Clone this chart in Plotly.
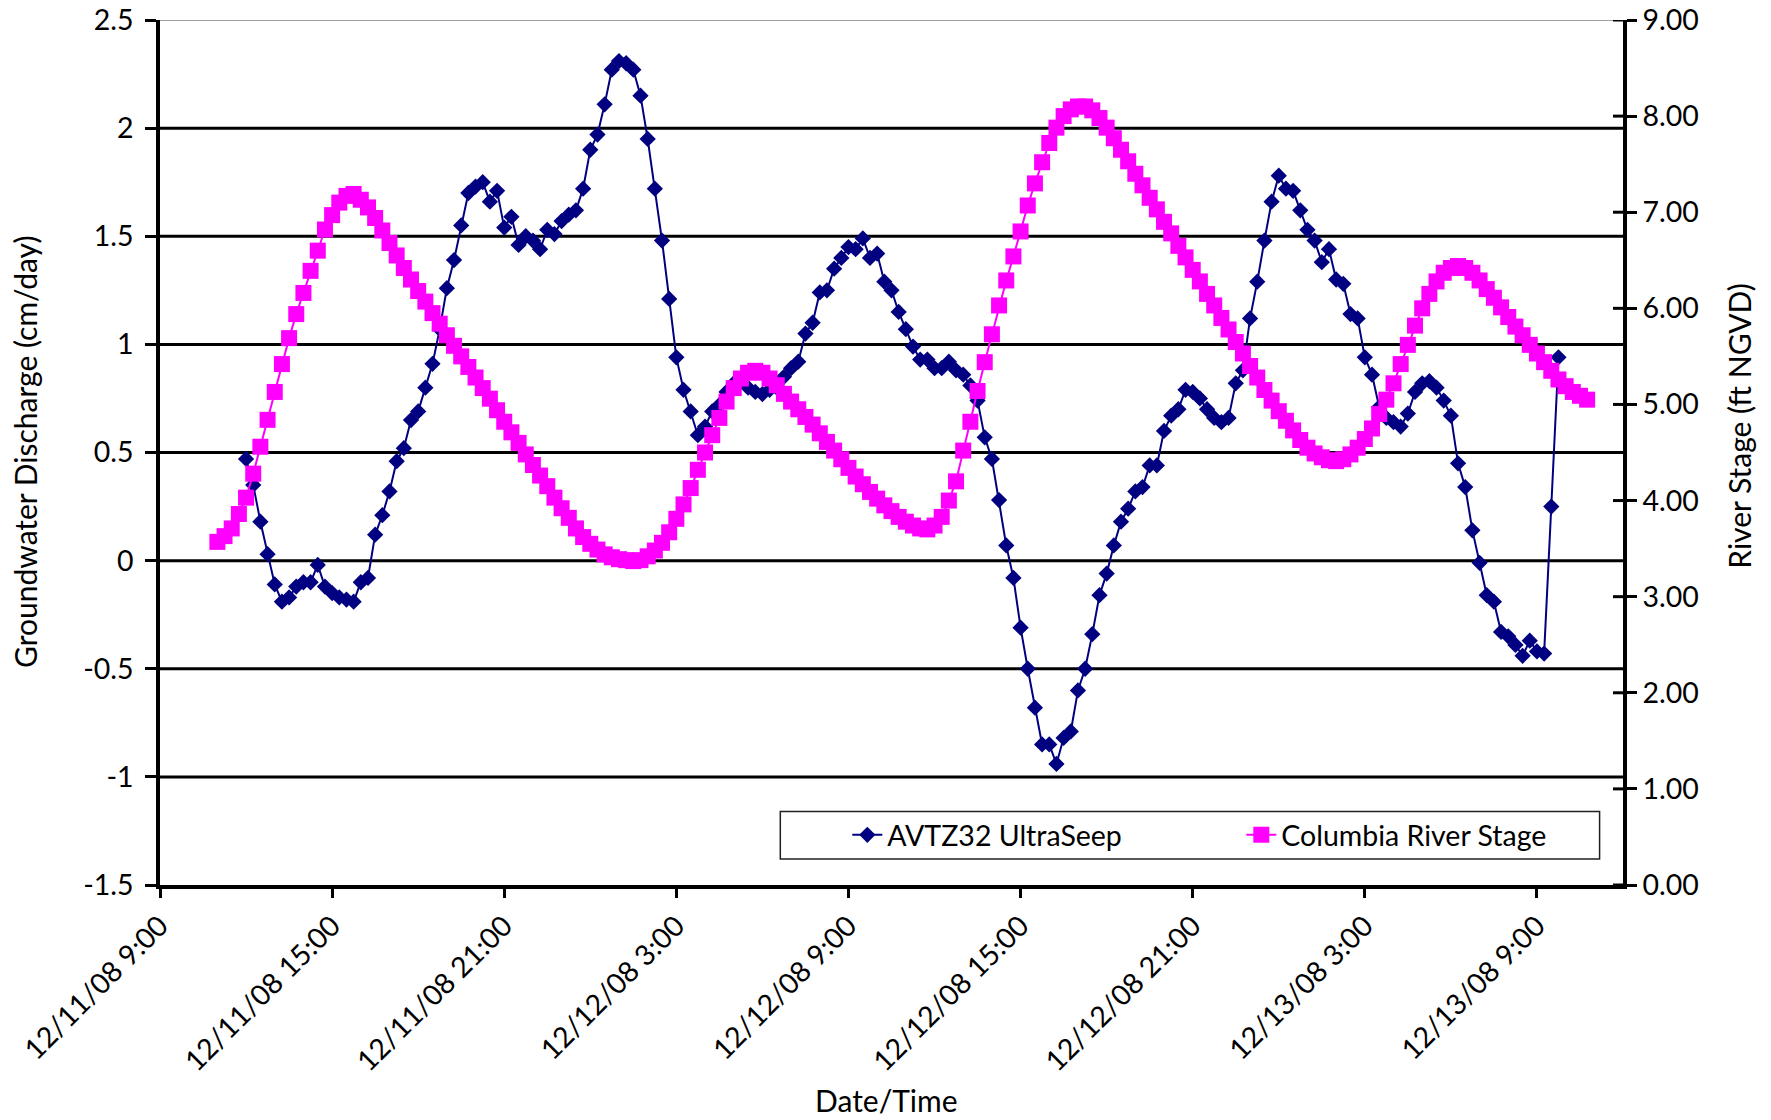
import pandas as pd
import plotly.graph_objects as go

# ---- data -------------------------------------------------------------
# AVTZ32 UltraSeep groundwater discharge (cm/day), 15-minute readings
seep_start = "2008-12-11 12:00"
seep_values = [
    0.47, 0.35, 0.18, 0.03, -0.11, -0.19, -0.17, -0.12, -0.10, -0.10,
    -0.02, -0.12, -0.15, -0.17, -0.18, -0.19, -0.10, -0.08, 0.12, 0.21,
    0.32, 0.46, 0.52, 0.65, 0.69, 0.80, 0.91, 1.07, 1.26, 1.39,
    1.55, 1.70, 1.73, 1.75, 1.66, 1.71, 1.54, 1.59, 1.46, 1.50,
    1.48, 1.44, 1.53, 1.51, 1.57, 1.60, 1.62, 1.72, 1.90, 1.97,
    2.11, 2.27, 2.31, 2.30, 2.27, 2.15, 1.95, 1.72, 1.48, 1.21,
    0.94, 0.79, 0.69, 0.58, 0.62, 0.69, 0.72, 0.78, 0.82, 0.83,
    0.80, 0.78, 0.77, 0.79, 0.80, 0.85, 0.89, 0.92, 1.05, 1.10,
    1.24, 1.25, 1.35, 1.40, 1.45, 1.44, 1.49, 1.40, 1.42, 1.29,
    1.25, 1.15, 1.07, 0.99, 0.93, 0.93, 0.89, 0.89, 0.92, 0.88,
    0.86, 0.81, 0.74, 0.57, 0.47, 0.28, 0.07, -0.08, -0.31, -0.50,
    -0.68, -0.85, -0.85, -0.94, -0.82, -0.79, -0.60, -0.50, -0.34, -0.16,
    -0.06, 0.07, 0.18, 0.24, 0.32, 0.34, 0.44, 0.44, 0.60, 0.67,
    0.70, 0.79, 0.78, 0.75, 0.70, 0.66, 0.64, 0.66, 0.82, 0.88,
    1.12, 1.29, 1.48, 1.66, 1.78, 1.72, 1.71, 1.62, 1.53, 1.48,
    1.38, 1.44, 1.30, 1.28, 1.14, 1.12, 0.94, 0.86, 0.71, 0.66,
    0.64, 0.62, 0.68, 0.78, 0.82, 0.83, 0.80, 0.74, 0.67, 0.45,
    0.34, 0.14, -0.01, -0.16, -0.19, -0.33, -0.35, -0.39, -0.44, -0.37,
    -0.42, -0.43, 0.25, 0.94,
]

# Columbia River stage (ft NGVD), 15-minute readings
stage_start = "2008-12-11 11:00"
stage_values = [
    3.57, 3.63, 3.71, 3.86, 4.03, 4.28, 4.56, 4.84, 5.13, 5.42,
    5.69, 5.94, 6.16, 6.39, 6.60, 6.82, 6.97, 7.10, 7.17, 7.19,
    7.13, 7.05, 6.94, 6.81, 6.68, 6.55, 6.42, 6.30, 6.18, 6.07,
    5.95, 5.84, 5.72, 5.61, 5.50, 5.39, 5.28, 5.17, 5.06, 4.94,
    4.82, 4.71, 4.60, 4.48, 4.37, 4.26, 4.15, 4.03, 3.92, 3.82,
    3.71, 3.62, 3.55, 3.49, 3.44, 3.41, 3.39, 3.38, 3.37, 3.38,
    3.42, 3.48, 3.56, 3.67, 3.81, 3.96, 4.13, 4.32, 4.50, 4.68,
    4.86, 5.03, 5.17, 5.27, 5.33, 5.35, 5.33, 5.27, 5.20, 5.11,
    5.03, 4.95, 4.87, 4.79, 4.70, 4.61, 4.52, 4.43, 4.34, 4.25,
    4.17, 4.09, 4.02, 3.95, 3.89, 3.83, 3.78, 3.74, 3.71, 3.70,
    3.74, 3.83, 4.00, 4.20, 4.52, 4.82, 5.14, 5.44, 5.73, 6.03,
    6.29, 6.54, 6.80, 7.07, 7.30, 7.52, 7.72, 7.88, 8.00, 8.07,
    8.10, 8.10, 8.06, 7.98, 7.88, 7.77, 7.65, 7.53, 7.40, 7.28,
    7.15, 7.03, 6.90, 6.78, 6.65, 6.53, 6.40, 6.28, 6.15, 6.03,
    5.90, 5.78, 5.65, 5.53, 5.40, 5.28, 5.15, 5.04, 4.93, 4.83,
    4.73, 4.63, 4.55, 4.49, 4.45, 4.42, 4.41, 4.43, 4.48, 4.55,
    4.64, 4.75, 4.90, 5.05, 5.22, 5.42, 5.62, 5.82, 6.00, 6.15,
    6.28, 6.37, 6.42, 6.44, 6.42, 6.37, 6.29, 6.20, 6.11, 6.01,
    5.91, 5.81, 5.72, 5.62, 5.53, 5.44, 5.35, 5.26, 5.19, 5.13,
    5.09, 5.05,
]

# axis ticks
left_tickvals = [-1.5, -1.0, -0.5, 0.0, 0.5, 1.0, 1.5, 2.0, 2.5]
left_ticktext = ["-1.5", "-1", "-0.5", "0", "0.5", "1", "1.5", "2", "2.5"]
right_tickvals = [0, 1, 2, 3, 4, 5, 6, 7, 8, 9]
right_ticktext = ["0.00", "1.00", "2.00", "3.00", "4.00", "5.00",
                  "6.00", "7.00", "8.00", "9.00"]
x_range = ["2008-12-11 09:00", "2008-12-13 12:00"]

seep_times = pd.date_range(seep_start, periods=len(seep_values), freq="15min")
stage_times = pd.date_range(stage_start, periods=len(stage_values), freq="15min")

# ---- figure -----------------------------------------------------------
FONT = "Lato"
FS = 28.5
TITLE_FS = 30
NAVY = "#000080"
MAGENTA = "#FF00FF"

fig = go.Figure()
fig.add_trace(go.Scatter(
    x=seep_times, y=seep_values, name="AVTZ32 UltraSeep", yaxis="y",
    mode="lines+markers",
    line=dict(color=NAVY, width=2),
    marker=dict(symbol="diamond", size=12.5, color=NAVY),
))
fig.add_trace(go.Scatter(
    x=stage_times, y=stage_values, name="Columbia River Stage", yaxis="y2",
    mode="lines+markers",
    line=dict(color=MAGENTA, width=2),
    marker=dict(symbol="square", size=16, color=MAGENTA),
))

# horizontal gridlines tied to the discharge axis
shapes = []
for v in left_tickvals[1:-1]:
    shapes.append(dict(type="line", xref="paper", yref="y", x0=0, x1=1,
                       y0=v, y1=v, line=dict(color="black", width=3),
                       layer="below"))
shapes.append(dict(type="line", xref="paper", yref="y", x0=0, x1=1,
                   y0=2.5, y1=2.5, line=dict(color="#808080", width=1.5),
                   layer="below"))
# inner halves of the crossing ticks on the stage axis
for v in right_tickvals:
    shapes.append(dict(type="line", xref="paper", yref="y2", x0=1 - 10 / 1463,
                       x1=1, y0=v, y1=v, line=dict(color="black", width=3),
                       layer="above"))
# legend frame
shapes.append(dict(type="rect", xref="paper", yref="paper",
                   x0=0.424, x1=0.984, y0=0.030, y1=0.085,
                   line=dict(color="#202020", width=1.5),
                   fillcolor="white", layer="above"))

axis_common = dict(
    showline=True, linecolor="black", linewidth=3.5,
    ticks="outside", tickcolor="black", tickwidth=3,
    showgrid=False, zeroline=False, automargin=False,
    tickfont=dict(family=FONT, size=FS, color="black"),
)

fig.update_layout(
    width=1771, height=1120,
    margin=dict(l=160, r=148, t=20, b=235, autoexpand=False),
    paper_bgcolor="white", plot_bgcolor="white",
    font=dict(family=FONT, size=FS, color="black"),
    showlegend=True,
    legend=dict(
        orientation="h", x=0.4698, y=0.0575, xanchor="left", yanchor="middle",
        bgcolor="rgba(0,0,0,0)", borderwidth=0,
        font=dict(family=FONT, size=FS, color="black"),
        entrywidth=349, entrywidthmode="pixels",
    ),
    xaxis=dict(
        type="date", range=x_range,
        tick0=x_range[0], dtick=6 * 3600 * 1000,
        tickformat="%m/%d/%y %-H:%M", tickangle=-45, ticklen=9,
        **axis_common,
    ),
    yaxis=dict(
        range=[-1.5, 2.5], tickvals=left_tickvals, ticktext=left_ticktext,
        ticklen=11, ticklabelstandoff=6, **axis_common,
    ),
    yaxis2=dict(
        range=[0, 9], tickvals=right_tickvals, ticktext=right_ticktext,
        overlaying="y", side="right", ticklen=10, **axis_common,
    ),
    shapes=shapes,
    annotations=[
        dict(text="Groundwater Discharge (cm/day)", xref="paper", yref="paper",
             x=-0.0927, y=0.501, textangle=-90, showarrow=False,
             xanchor="center", yanchor="middle",
             font=dict(family=FONT, size=TITLE_FS, color="black")),
        dict(text="River Stage (ft NGVD)", xref="paper", yref="paper",
             x=1.0793, y=0.531, textangle=-90, showarrow=False,
             xanchor="center", yanchor="middle",
             font=dict(family=FONT, size=TITLE_FS, color="black")),
        dict(text="Date/Time", xref="paper", yref="paper",
             x=0.4965, y=-0.249, showarrow=False,
             xanchor="center", yanchor="middle",
             font=dict(family=FONT, size=TITLE_FS, color="black")),
    ],
)

fig.write_html("out.html")
